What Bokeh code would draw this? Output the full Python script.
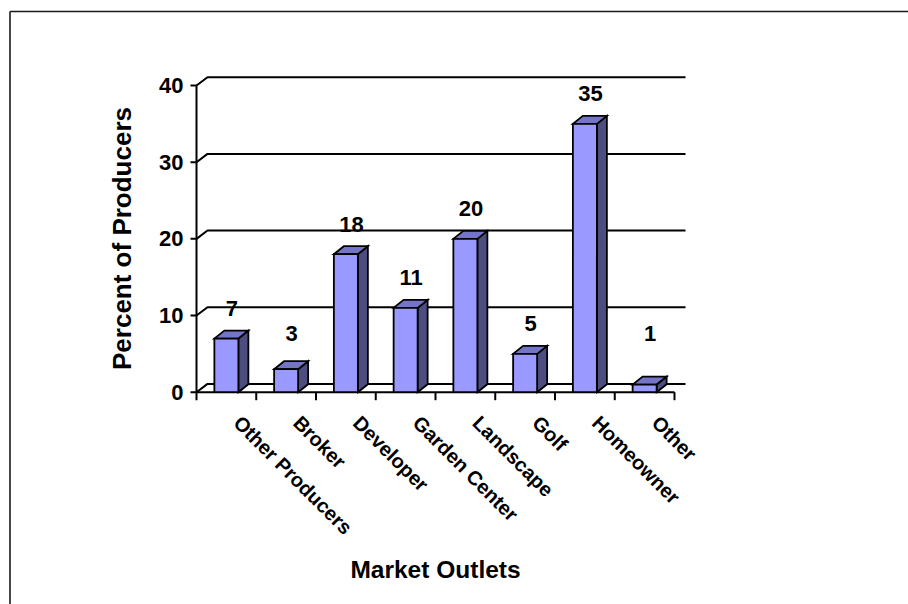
import numpy as np
from bokeh.plotting import figure
from bokeh.models import Range1d, ColumnDataSource
from bokeh.core.properties import value
from bokeh.embed import file_html
from bokeh.resources import INLINE

# ---- data -------------------------------------------------------------
categories = ["Other Producers", "Broker", "Developer", "Garden Center",
              "Landscape", "Golf", "Homeowner", "Other"]
percents = [7, 3, 18, 11, 20, 5, 35, 1]
y_ticks = [0, 10, 20, 30, 40]
y_tick_labels = ["0", "10", "20", "30", "40"]
x_title = "Market Outlets"
y_title = "Percent of Producers"

# ---- page geometry ------------------------------------------------------
W, H = 908, 604
ORIGIN_X, ORIGIN_Y = 196.0, 391.7   # canvas position of (0 categories, 0 %)
CAT_PX = 59.75                      # pixels per category slot
PCT_PX = 7.667                      # pixels per percent
FONT = value("Liberation Sans")


def dx(px):
    """horizontal pixel distance -> category units"""
    return px / CAT_PX


def dy(px):
    """vertical pixel distance (upwards) -> percent units"""
    return px / PCT_PX


def cx(px):
    """canvas x -> data x"""
    return (px - ORIGIN_X) / CAT_PX


def cy(px):
    """canvas y -> data y"""
    return (ORIGIN_Y - px) / PCT_PX


p = figure(width=W, height=H, title=None,
           x_range=Range1d(cx(0), cx(W)), y_range=Range1d(cy(H), cy(0)),
           output_backend="svg", toolbar_location=None,
           x_axis_location=None, y_axis_location=None,
           min_border=0, outline_line_color=None,
           background_fill_color="white", border_fill_color="white")
for g in p.grid:
    g.visible = False

n = len(categories)
vals = np.array(percents, dtype=float)
centers = np.arange(n) + 0.5
y_max = y_ticks[-1]

# ---- chart-area border ------------------------------------------------
p.segment(x0=[cx(9.5), cx(9.5)], y0=[cy(11), cy(11)],
          x1=[cx(W + 5), cx(9.5)], y1=[cy(11), cy(H + 5)],
          line_color="#1a1a1a", line_width=1.6)

# ---- walls: side-wall diagonals + back-wall gridlines ----------------
wall_dx, wall_dy = dx(11), dy(8.3)
grid_xs, grid_ys = [], []
for g in y_ticks:
    grid_xs.append([0, wall_dx, n + wall_dx])
    grid_ys.append([g, g + wall_dy, g + wall_dy])
p.multi_line(xs=grid_xs, ys=grid_ys, line_color="black", line_width=2)

# ---- axes lines and ticks ---------------------------------------------
p.segment(x0=[0, 0], y0=[0, 0], x1=[n, 0], y1=[0, y_max],
          line_color="black", line_width=2)
ticks_y = np.array(y_ticks, dtype=float)
p.segment(x0=np.full(len(ticks_y), -dx(6)), y0=ticks_y,
          x1=np.zeros(len(ticks_y)), y1=ticks_y,
          line_color="black", line_width=2)
ticks_x = np.arange(n + 1, dtype=float)
p.segment(x0=ticks_x, y0=np.zeros(n + 1), x1=ticks_x,
          y1=np.full(n + 1, -dy(8)), line_color="black", line_width=2)

# ---- 3-D columns --------------------------------------------------------
hw = dx(12)                 # half width of the front face
bdx, bdy = dx(10), dy(8)    # column depth offset
side_xs, side_ys, top_xs, top_ys = [], [], [], []
for c, v in zip(centers, vals):
    side_xs.append([c + hw, c + hw + bdx, c + hw + bdx, c + hw])
    side_ys.append([0, bdy, v + bdy, v])
    top_xs.append([c - hw, c + hw, c + hw + bdx, c - hw + bdx])
    top_ys.append([v, v, v + bdy, v + bdy])

p.patches(xs=side_xs, ys=side_ys, fill_color="#4d4d80",
          line_color="black", line_width=1.8, line_join="miter")
p.patches(xs=top_xs, ys=top_ys, fill_color="#7575c8",
          line_color="black", line_width=1.8, line_join="miter")
bars = ColumnDataSource(dict(left=centers - hw, right=centers + hw,
                             top=vals, bottom=np.zeros(n)))
p.quad(left="left", right="right", top="top", bottom="bottom", source=bars,
       fill_color="#9999ff", line_color="black", line_width=1.8,
       line_join="miter")

# ---- value labels -------------------------------------------------------
lab = ColumnDataSource(dict(x=centers + dx(5.5),
                            y=np.maximum(vals + 3.9, 7.7),
                            text=[f"{v:g}" for v in percents]))
p.text(x="x", y="y", text="text", source=lab, text_font=FONT,
       text_font_style="bold", text_font_size="22px",
       text_align="center", text_baseline="middle", text_color="black")

# ---- y tick labels ------------------------------------------------------
p.text(x=np.full(len(y_ticks), -dx(13)), y=ticks_y, text=y_tick_labels,
       text_font=FONT, text_font_style="bold", text_font_size="22px",
       text_align="right", text_baseline="middle", text_color="black")

# ---- category labels (slanted) -----------------------------------------
p.text(x=centers + dx(18.5), y=np.full(n, cy(411)), text=categories,
       angle=-np.pi / 4, text_font=FONT, text_font_style="bold",
       text_font_size="20px", text_align="left", text_baseline="top",
       text_color="black")

# ---- axis titles ----------------------------------------------------------
p.text(x=[cx(435)], y=[cy(568.5)], text=[x_title], text_font=FONT,
       text_font_style="bold", text_font_size="24.5px",
       text_align="center", text_baseline="middle", text_color="black")
p.text(x=[cx(121.5)], y=[cy(238)], text=[y_title], angle=np.pi / 2,
       text_font=FONT, text_font_style="bold", text_font_size="26px",
       text_align="center", text_baseline="middle", text_color="black")

open("out.html", "w").write(file_html(p, INLINE))
